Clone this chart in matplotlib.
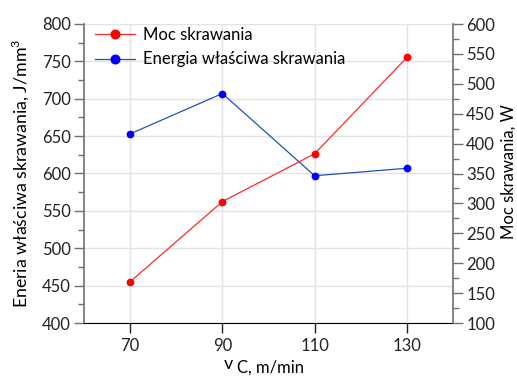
import numpy as np
import matplotlib
matplotlib.use("Agg")
import matplotlib.pyplot as plt

plt.rcParams['font.family'] = ['Lato', 'DejaVu Sans']
plt.rcParams['mathtext.fontset'] = 'custom'
plt.rcParams['mathtext.rm'] = 'Lato'

# data
vc = [70, 90, 110, 130]
moc = [169, 303, 383, 544]          # Moc skrawania, W (right axis)
energia = [653, 707, 597, 607]      # Energia wlasciwa, J/mm3 (left axis)

FS = 12
W, H = 517, 378

fig = plt.figure(figsize=(W / 100, H / 100), dpi=100)
ax = fig.add_axes([84 / W, 1 - 323 / H, (453 - 84) / W, (323 - 24) / H])
ax2 = ax.twinx()

ax.set_xlim(60, 140)
ax.set_ylim(400, 800)
ax2.set_ylim(100, 600)
ax.set_xticks(vc)
ax.set_yticks(np.arange(400, 801, 50))
ax.set_yticks(np.arange(400, 801, 25), minor=True)
ax2.set_yticks(np.arange(100, 601, 50))
ax2.set_yticks(np.arange(100, 601, 25), minor=True)

ax.grid(True, color='#e3e3e3', lw=1.0)
ax.set_axisbelow(True)

l_en, = ax.plot(vc, energia, color='#2152b5', lw=0.9, marker='o', ms=4.6,
                mfc='#0000ff', mec='#0000ff', zorder=3)
l_moc, = ax2.plot(vc, moc, color='#ff2a2a', lw=0.9, marker='o', ms=4.6,
                  mfc='#ff0000', mec='#ff0000', zorder=3)

for a in (ax, ax2):
    a.spines['top'].set_visible(False)
    a.tick_params(labelsize=FS, colors='#222222')
    a.tick_params(which='major', length=7, width=1)
    a.tick_params(which='minor', length=4, width=1)
ax.spines['left'].set_color('#707070')
ax.spines['left'].set_linewidth(1.2)
ax2.spines['right'].set_color('#707070')
ax2.spines['right'].set_linewidth(1.2)
ax2.spines['left'].set_visible(False)
ax2.spines['bottom'].set_visible(False)
ax.spines['right'].set_visible(False)
ax.spines['bottom'].set_color('black')
ax.tick_params(axis='y', which='both', color='#707070', pad=2.5)
ax2.tick_params(axis='y', which='both', color='#707070', pad=2.5)
ax.tick_params(axis='x', which='minor', bottom=False)

# axis titles
fig.text(20 / W, 1 - 173 / H, 'Eneria właściwa skrawania, J/mm$^{\\mathregular{3}}$',
         fontsize=FS + 0.8, rotation=90, ha='center', va='center')
fig.text(509 / W, 1 - 172 / H, 'Moc skrawania, W',
         fontsize=FS, rotation=90, ha='center', va='center')

# x label: "v" with lowered "C, m/min"
fig.text(224 / W, 1 - 369 / H, 'v', fontsize=FS + 1, ha='left', va='baseline')
fig.text(237 / W, 1 - 373 / H, 'C, m/min', fontsize=FS, ha='left', va='baseline')

ax.legend([l_moc, l_en], ['Moc skrawania', 'Energia właściwa skrawania'],
          loc='upper left', bbox_to_anchor=(-0.01, 1.04), frameon=False,
          fontsize=FS, handlelength=2.4, handletextpad=0.45, labelspacing=0.5,
          markerscale=1.35)

fig.savefig('out.png', dpi=100)
